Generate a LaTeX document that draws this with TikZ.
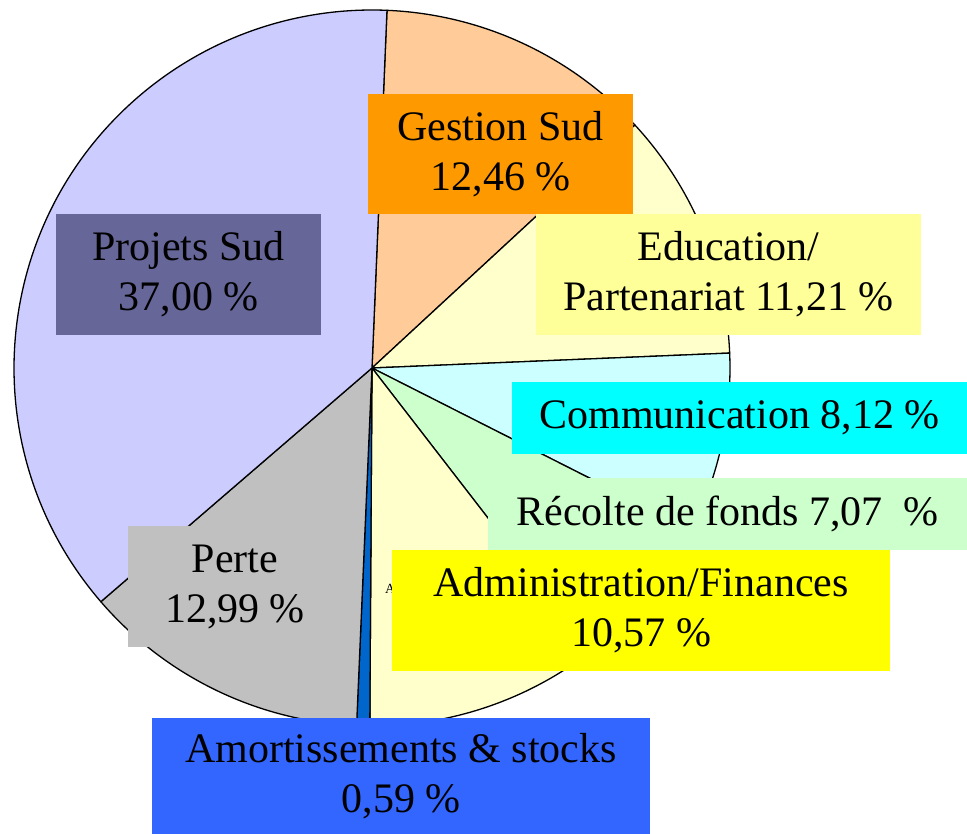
\documentclass[tikz,border=0pt]{standalone}
\usepackage{fontspec}
\setmainfont{Liberation Serif}
\definecolor{projS}{HTML}{CCCCFF}
\definecolor{projB}{HTML}{666699}
\definecolor{gestS}{HTML}{FFCC99}
\definecolor{gestB}{HTML}{FF9900}
\definecolor{eduS}{HTML}{FFFFCC}
\definecolor{eduB}{HTML}{FFFF99}
\definecolor{comS}{HTML}{CCFFFF}
\definecolor{comB}{HTML}{00FFFF}
\definecolor{recS}{HTML}{CCFFCC}
\definecolor{recB}{HTML}{CCFFCC}
\definecolor{admS}{HTML}{FFFFCC}
\definecolor{admB}{HTML}{FFFF00}
\definecolor{amoS}{HTML}{0066CC}
\definecolor{amoB}{HTML}{3366FF}
\definecolor{perS}{HTML}{C0C0C0}
\definecolor{perB}{HTML}{C0C0C0}
\tikzset{
  slice/.style={draw=black, line width=1.3pt, line join=round},
  lbl/.style={inner sep=0pt, align=center, text=black,
    font=\fontsize{42}{50}\selectfont},
}
\newcommand{\pieslice}[3]{%
  \filldraw[slice, fill=#3] (C) -- ++(#1:358) arc[start angle=#1, end angle=#2, radius=358] -- cycle;}
\begin{document}
\begin{tikzpicture}[x=1pt,y=1pt]
\useasboundingbox (0,0) rectangle (967,834);
\coordinate (C) at (372,466);
% slices, clockwise from the top
\pieslice{87.6}{42.74}{gestS}
\pieslice{42.74}{2.39}{eduS}
\pieslice{2.39}{-26.85}{comS}
\pieslice{-26.85}{-52.30}{recS}
\pieslice{-52.30}{-90.35}{admS}
\pieslice{-90.35}{-92.47}{amoS}
\pieslice{-92.47}{-139.24}{perS}
\pieslice{-139.24}{-272.4}{projS}
% small hidden label (only its first letter shows)
\node[anchor=west, inner sep=0pt, font=\fontsize{14}{16}\selectfont] (tiny) at (385,245) {A};
% label boxes
\node[lbl, fill=projB, minimum width=265pt, minimum height=121pt] (projets) at (188.5,559.5) {Projets Sud\\37,00 \%};
\node[lbl, fill=gestB, minimum width=265pt, minimum height=120pt] (gestion) at (500.5,680) {Gestion Sud\\12,46 \%};
\node[lbl, fill=eduB, minimum width=385pt, minimum height=121pt] (education) at (728.5,559.5) {Education/\\Partenariat 11,21 \%};
\node[lbl, fill=comB, minimum width=455pt, minimum height=72pt] (communication) at (739.5,416) {Communication 8,12 \%};
\node[lbl, fill=recB, minimum width=479pt, minimum height=72pt] (recolte) at (727.5,320) {Récolte de fonds 7,07\ \ \%};
\node[lbl, fill=admB, minimum width=498pt, minimum height=121pt] (admin) at (641,223.5) {Administration/Finances\\10,57 \%};
\node[lbl, fill=perB, minimum width=214pt, minimum height=121pt] (perte) at (235,247.5) {Perte\\12,99 \%};
\node[lbl, fill=amoB, minimum width=498pt, minimum height=116pt] (amort) at (401,58) {Amortissements \& stocks\\0,59 \%};
\end{tikzpicture}
\end{document}
